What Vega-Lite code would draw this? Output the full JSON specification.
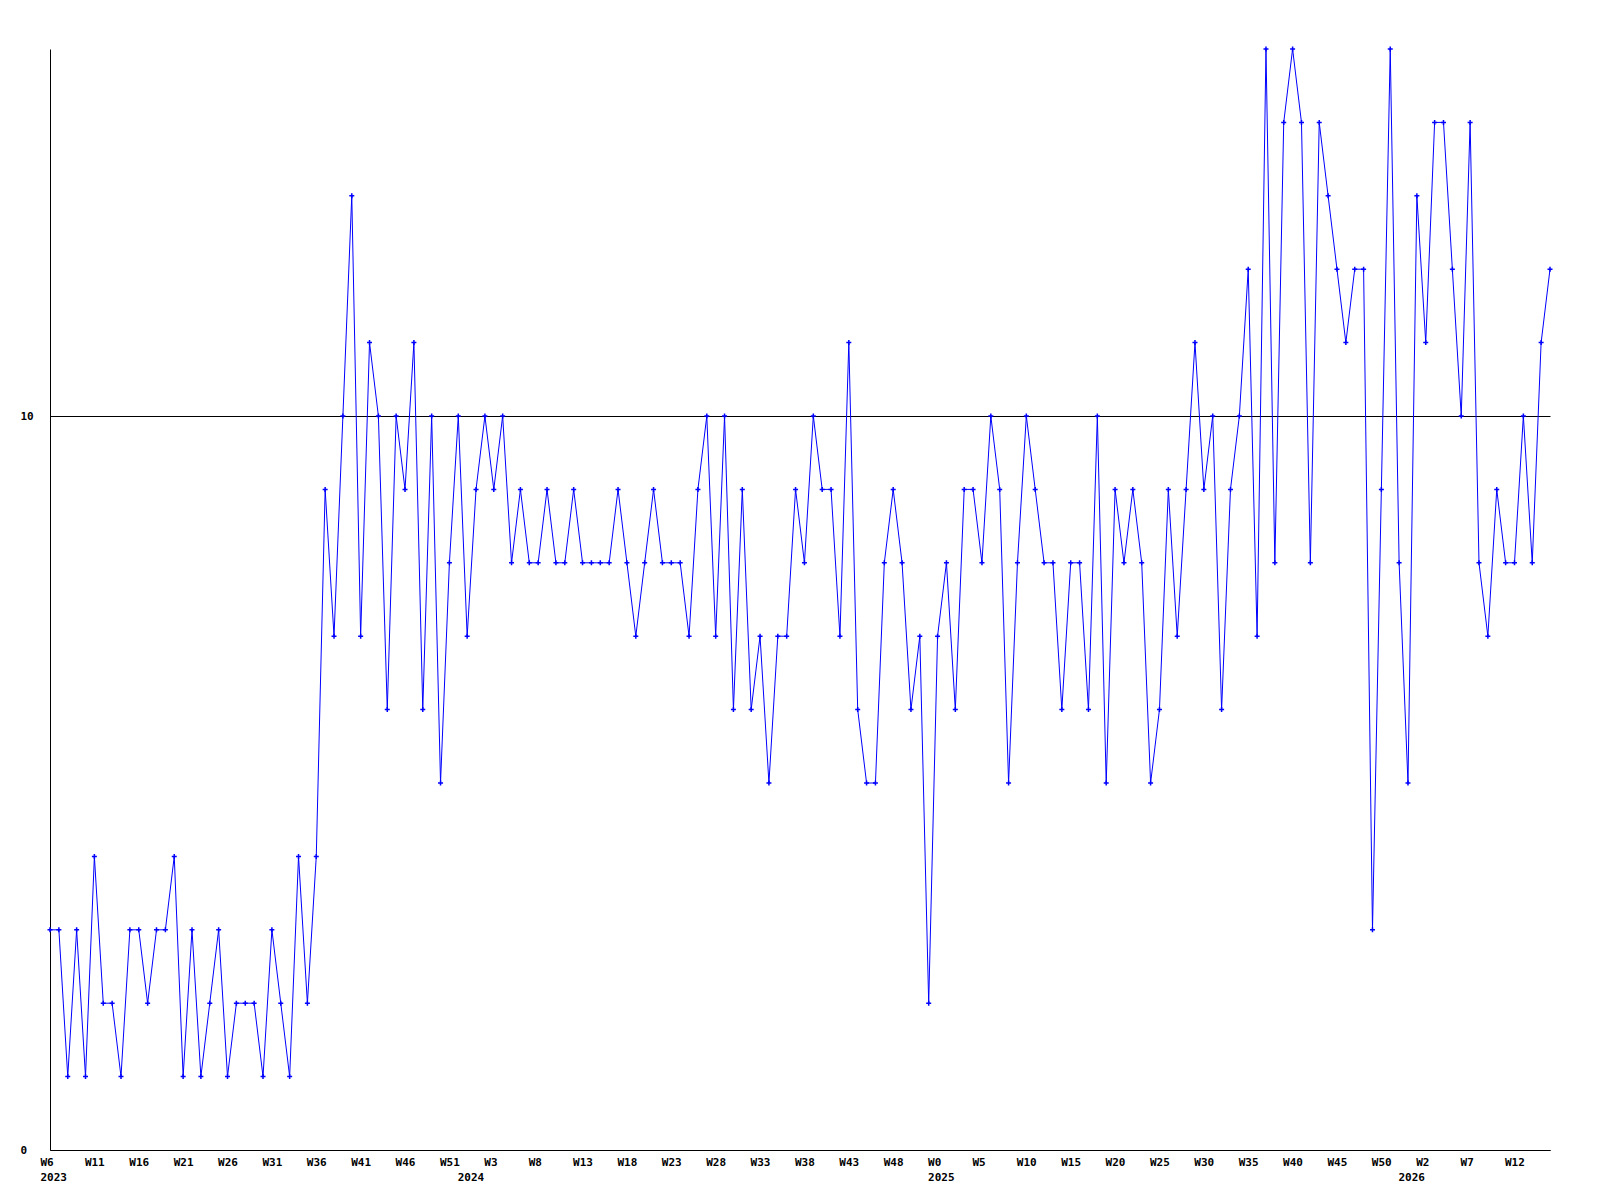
{"$schema":"https://vega.github.io/schema/vega-lite/v6.json","width":1500,"height":1101,"autosize":"none","padding":{"left":50,"top":49,"right":50,"bottom":50},"background":"white","config":{"view":{"stroke":null},"axis":{"labelFont":"DejaVu Sans Mono","labelFontWeight":"bold","labelFontSize":11,"labelColor":"black","domainColor":"black","domainWidth":1,"ticks":false,"title":null,"labelFlush":false,"labelOverlap":false,"labelBound":false}},"data":{"values":[
{"i":0,"yr":2023,"wk":6,"v":3},{"i":1,"yr":2023,"wk":7,"v":3},{"i":2,"yr":2023,"wk":8,"v":1},{"i":3,"yr":2023,"wk":9,"v":3},{"i":4,"yr":2023,"wk":10,"v":1},{"i":5,"yr":2023,"wk":11,"v":4},{"i":6,"yr":2023,"wk":12,"v":2},{"i":7,"yr":2023,"wk":13,"v":2},{"i":8,"yr":2023,"wk":14,"v":1},{"i":9,"yr":2023,"wk":15,"v":3},
{"i":10,"yr":2023,"wk":16,"v":3},{"i":11,"yr":2023,"wk":17,"v":2},{"i":12,"yr":2023,"wk":18,"v":3},{"i":13,"yr":2023,"wk":19,"v":3},{"i":14,"yr":2023,"wk":20,"v":4},{"i":15,"yr":2023,"wk":21,"v":1},{"i":16,"yr":2023,"wk":22,"v":3},{"i":17,"yr":2023,"wk":23,"v":1},{"i":18,"yr":2023,"wk":24,"v":2},{"i":19,"yr":2023,"wk":25,"v":3},
{"i":20,"yr":2023,"wk":26,"v":1},{"i":21,"yr":2023,"wk":27,"v":2},{"i":22,"yr":2023,"wk":28,"v":2},{"i":23,"yr":2023,"wk":29,"v":2},{"i":24,"yr":2023,"wk":30,"v":1},{"i":25,"yr":2023,"wk":31,"v":3},{"i":26,"yr":2023,"wk":32,"v":2},{"i":27,"yr":2023,"wk":33,"v":1},{"i":28,"yr":2023,"wk":34,"v":4},{"i":29,"yr":2023,"wk":35,"v":2},
{"i":30,"yr":2023,"wk":36,"v":4},{"i":31,"yr":2023,"wk":37,"v":9},{"i":32,"yr":2023,"wk":38,"v":7},{"i":33,"yr":2023,"wk":39,"v":10},{"i":34,"yr":2023,"wk":40,"v":13},{"i":35,"yr":2023,"wk":41,"v":7},{"i":36,"yr":2023,"wk":42,"v":11},{"i":37,"yr":2023,"wk":43,"v":10},{"i":38,"yr":2023,"wk":44,"v":6},{"i":39,"yr":2023,"wk":45,"v":10},
{"i":40,"yr":2023,"wk":46,"v":9},{"i":41,"yr":2023,"wk":47,"v":11},{"i":42,"yr":2023,"wk":48,"v":6},{"i":43,"yr":2023,"wk":49,"v":10},{"i":44,"yr":2023,"wk":50,"v":5},{"i":45,"yr":2023,"wk":51,"v":8},{"i":46,"yr":2023,"wk":52,"v":10},{"i":47,"yr":2024,"wk":0,"v":7},{"i":48,"yr":2024,"wk":1,"v":9},{"i":49,"yr":2024,"wk":2,"v":10},
{"i":50,"yr":2024,"wk":3,"v":9},{"i":51,"yr":2024,"wk":4,"v":10},{"i":52,"yr":2024,"wk":5,"v":8},{"i":53,"yr":2024,"wk":6,"v":9},{"i":54,"yr":2024,"wk":7,"v":8},{"i":55,"yr":2024,"wk":8,"v":8},{"i":56,"yr":2024,"wk":9,"v":9},{"i":57,"yr":2024,"wk":10,"v":8},{"i":58,"yr":2024,"wk":11,"v":8},{"i":59,"yr":2024,"wk":12,"v":9},
{"i":60,"yr":2024,"wk":13,"v":8},{"i":61,"yr":2024,"wk":14,"v":8},{"i":62,"yr":2024,"wk":15,"v":8},{"i":63,"yr":2024,"wk":16,"v":8},{"i":64,"yr":2024,"wk":17,"v":9},{"i":65,"yr":2024,"wk":18,"v":8},{"i":66,"yr":2024,"wk":19,"v":7},{"i":67,"yr":2024,"wk":20,"v":8},{"i":68,"yr":2024,"wk":21,"v":9},{"i":69,"yr":2024,"wk":22,"v":8},
{"i":70,"yr":2024,"wk":23,"v":8},{"i":71,"yr":2024,"wk":24,"v":8},{"i":72,"yr":2024,"wk":25,"v":7},{"i":73,"yr":2024,"wk":26,"v":9},{"i":74,"yr":2024,"wk":27,"v":10},{"i":75,"yr":2024,"wk":28,"v":7},{"i":76,"yr":2024,"wk":29,"v":10},{"i":77,"yr":2024,"wk":30,"v":6},{"i":78,"yr":2024,"wk":31,"v":9},{"i":79,"yr":2024,"wk":32,"v":6},
{"i":80,"yr":2024,"wk":33,"v":7},{"i":81,"yr":2024,"wk":34,"v":5},{"i":82,"yr":2024,"wk":35,"v":7},{"i":83,"yr":2024,"wk":36,"v":7},{"i":84,"yr":2024,"wk":37,"v":9},{"i":85,"yr":2024,"wk":38,"v":8},{"i":86,"yr":2024,"wk":39,"v":10},{"i":87,"yr":2024,"wk":40,"v":9},{"i":88,"yr":2024,"wk":41,"v":9},{"i":89,"yr":2024,"wk":42,"v":7},
{"i":90,"yr":2024,"wk":43,"v":11},{"i":91,"yr":2024,"wk":44,"v":6},{"i":92,"yr":2024,"wk":45,"v":5},{"i":93,"yr":2024,"wk":46,"v":5},{"i":94,"yr":2024,"wk":47,"v":8},{"i":95,"yr":2024,"wk":48,"v":9},{"i":96,"yr":2024,"wk":49,"v":8},{"i":97,"yr":2024,"wk":50,"v":6},{"i":98,"yr":2024,"wk":51,"v":7},{"i":99,"yr":2024,"wk":52,"v":2},
{"i":100,"yr":2025,"wk":0,"v":7},{"i":101,"yr":2025,"wk":1,"v":8},{"i":102,"yr":2025,"wk":2,"v":6},{"i":103,"yr":2025,"wk":3,"v":9},{"i":104,"yr":2025,"wk":4,"v":9},{"i":105,"yr":2025,"wk":5,"v":8},{"i":106,"yr":2025,"wk":6,"v":10},{"i":107,"yr":2025,"wk":7,"v":9},{"i":108,"yr":2025,"wk":8,"v":5},{"i":109,"yr":2025,"wk":9,"v":8},
{"i":110,"yr":2025,"wk":10,"v":10},{"i":111,"yr":2025,"wk":11,"v":9},{"i":112,"yr":2025,"wk":12,"v":8},{"i":113,"yr":2025,"wk":13,"v":8},{"i":114,"yr":2025,"wk":14,"v":6},{"i":115,"yr":2025,"wk":15,"v":8},{"i":116,"yr":2025,"wk":16,"v":8},{"i":117,"yr":2025,"wk":17,"v":6},{"i":118,"yr":2025,"wk":18,"v":10},{"i":119,"yr":2025,"wk":19,"v":5},
{"i":120,"yr":2025,"wk":20,"v":9},{"i":121,"yr":2025,"wk":21,"v":8},{"i":122,"yr":2025,"wk":22,"v":9},{"i":123,"yr":2025,"wk":23,"v":8},{"i":124,"yr":2025,"wk":24,"v":5},{"i":125,"yr":2025,"wk":25,"v":6},{"i":126,"yr":2025,"wk":26,"v":9},{"i":127,"yr":2025,"wk":27,"v":7},{"i":128,"yr":2025,"wk":28,"v":9},{"i":129,"yr":2025,"wk":29,"v":11},
{"i":130,"yr":2025,"wk":30,"v":9},{"i":131,"yr":2025,"wk":31,"v":10},{"i":132,"yr":2025,"wk":32,"v":6},{"i":133,"yr":2025,"wk":33,"v":9},{"i":134,"yr":2025,"wk":34,"v":10},{"i":135,"yr":2025,"wk":35,"v":12},{"i":136,"yr":2025,"wk":36,"v":7},{"i":137,"yr":2025,"wk":37,"v":15},{"i":138,"yr":2025,"wk":38,"v":8},{"i":139,"yr":2025,"wk":39,"v":14},
{"i":140,"yr":2025,"wk":40,"v":15},{"i":141,"yr":2025,"wk":41,"v":14},{"i":142,"yr":2025,"wk":42,"v":8},{"i":143,"yr":2025,"wk":43,"v":14},{"i":144,"yr":2025,"wk":44,"v":13},{"i":145,"yr":2025,"wk":45,"v":12},{"i":146,"yr":2025,"wk":46,"v":11},{"i":147,"yr":2025,"wk":47,"v":12},{"i":148,"yr":2025,"wk":48,"v":12},{"i":149,"yr":2025,"wk":49,"v":3},
{"i":150,"yr":2025,"wk":50,"v":9},{"i":151,"yr":2025,"wk":51,"v":15},{"i":152,"yr":2025,"wk":52,"v":8},{"i":153,"yr":2026,"wk":0,"v":5},{"i":154,"yr":2026,"wk":1,"v":13},{"i":155,"yr":2026,"wk":2,"v":11},{"i":156,"yr":2026,"wk":3,"v":14},{"i":157,"yr":2026,"wk":4,"v":14},{"i":158,"yr":2026,"wk":5,"v":12},{"i":159,"yr":2026,"wk":6,"v":10},
{"i":160,"yr":2026,"wk":7,"v":14},{"i":161,"yr":2026,"wk":8,"v":8},{"i":162,"yr":2026,"wk":9,"v":7},{"i":163,"yr":2026,"wk":10,"v":9},{"i":164,"yr":2026,"wk":11,"v":8},{"i":165,"yr":2026,"wk":12,"v":8},{"i":166,"yr":2026,"wk":13,"v":10},{"i":167,"yr":2026,"wk":14,"v":8},{"i":168,"yr":2026,"wk":15,"v":11},{"i":169,"yr":2026,"wk":16,"v":12}
]},
"layer":[
{"mark":{"type":"line","color":"#0000ff","strokeWidth":1},
"encoding":{
"x":{"field":"i","type":"quantitative","scale":{"domain":[0,169],"nice":false,"zero":false},"axis":{"orient":"bottom","values":[0,5,10,15,20,25,30,35,40,45,50,55,60,65,70,75,80,85,90,95,100,105,110,115,120,125,130,135,140,145,150,155,160,165],"labelExpr":"datum.value < 47 ? 'W' + (datum.value + 6) : datum.value < 100 ? 'W' + (datum.value - 47) : datum.value < 153 ? 'W' + (datum.value - 100) : 'W' + (datum.value - 153)","labelAlign":"left","labelOffset":-10,"labelPadding":6,"grid":false,"domain":true}},
"y":{"field":"v","type":"quantitative","scale":{"domain":[0,15],"nice":false,"zero":true},"axis":{"values":[0,10],"format":"d","grid":true,"gridColor":"black","gridOpacity":1,"gridWidth":1,"labelAlign":"left","labelPadding":30,"domain":true}}
}},
{"mark":{"type":"point","shape":"M-1,0H1M0,-1V1","filled":false,"stroke":"#0000ff","strokeWidth":1.5,"size":25,"opacity":1},
"encoding":{
"x":{"field":"i","type":"quantitative","axis":{"orient":"bottom","values":[0,47,100,153],"labelExpr":"datum.value < 47 ? '2023' : datum.value < 100 ? '2024' : datum.value < 153 ? '2025' : '2026'","labelAlign":"left","labelOffset":-10,"labelPadding":21,"domain":false,"grid":false}},
"y":{"field":"v","type":"quantitative"}
}}
],
"resolve":{"axis":{"x":"independent"}}
}
